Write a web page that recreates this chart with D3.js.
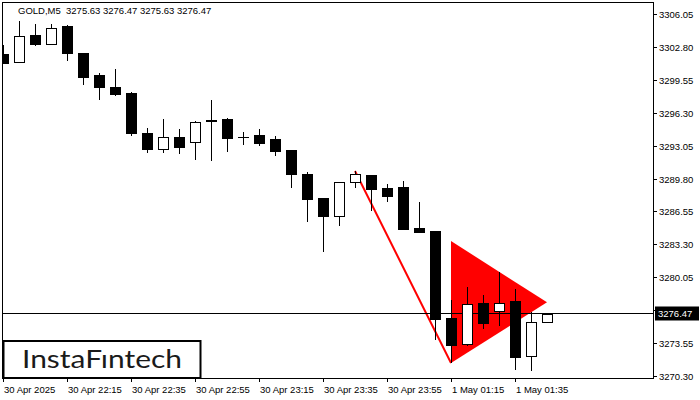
<!DOCTYPE html>
<html><head><meta charset="utf-8">
<script src="https://cdn.jsdelivr.net/npm/d3@7"></script>
<style>html,body{margin:0;padding:0;background:#fff;}svg{display:block;}</style>
</head><body>
<svg id="c" width="700" height="400"></svg>
<script>
// ---- data ----
const title = "GOLD,M5  3275.63 3276.47 3275.63 3276.47";
const opens  = [3302.10,3301.34,3303.98,3303.12,3304.89,3302.20,3300.03,3298.84,3298.25,3294.30,3292.75,3293.87,3293.38,3295.53,3295.68,3293.93,3294.10,3293.71,3292.62,3290.25,3287.88,3286.13,3289.43,3290.15,3288.87,3288.96,3284.92,3284.62,3276.03,3273.43,3277.48,3276.69,3277.68,3272.25,3275.63];
const highs  = [3302.99,3305.36,3305.06,3305.06,3304.96,3302.20,3300.22,3300.62,3298.35,3294.79,3295.68,3294.69,3295.45,3297.56,3295.78,3294.40,3294.69,3294.00,3292.62,3290.45,3287.88,3289.46,3290.54,3290.15,3289.26,3289.56,3287.48,3284.62,3277.78,3279.06,3278.27,3280.57,3278.89,3276.65,3276.47];
const lows   = [3301.15,3301.24,3302.92,3302.96,3301.44,3299.07,3297.59,3297.98,3294.00,3292.35,3292.35,3292.25,3291.66,3291.50,3292.39,3293.14,3293.04,3292.06,3288.90,3285.54,3282.58,3285.14,3288.90,3286.62,3287.51,3284.85,3284.55,3273.83,3271.58,3273.26,3274.97,3275.27,3270.92,3270.82,3275.63];
const closes = [3301.21,3303.88,3303.12,3304.64,3302.23,3299.86,3298.87,3298.18,3294.30,3292.75,3293.90,3292.94,3295.35,3295.57,3293.83,3293.93,3293.34,3292.55,3290.28,3287.81,3286.13,3289.43,3290.22,3288.80,3288.11,3284.85,3284.55,3275.96,3273.41,3277.38,3275.56,3277.48,3272.21,3275.60,3276.47];
const priceTicks = ["3270.30","3273.55","3276.80","3280.05","3283.30","3286.55","3289.80","3293.05","3296.30","3299.55","3302.80","3306.05"];
const timeTickIdx = [0,4,8,12,16,20,24,28,32];
const timeTickLabels = ["30 Apr 2025","30 Apr 22:15","30 Apr 22:35","30 Apr 22:55","30 Apr 23:15","30 Apr 23:35","30 Apr 23:55","1 May 01:15","1 May 01:35"];
const lastPrice = 3276.47;
// pattern: flagpole (from bar 22 high to bar 28 low) and pennant triangle
const poleIdx = [22, 28];
const poleVals = [3290.54, 3271.58];
const triIdx = [28, 28, 34];
const triVals = [3283.63, 3271.58, 3277.58];

// ---- layout ----
const svg = d3.select("#c");
const L = 2, R = 653, T = 2, B = 378;
const x = d3.scaleLinear().domain([0, 34]).range([3.5, 547.5]);
const y = d3.scaleLinear().domain([3270.30, 3306.05]).range([376, 14]);
const font = "'Liberation Sans', Arial, sans-serif";

svg.append("rect").attr("width",700).attr("height",400).attr("fill","#fff");

const clip = svg.append("clipPath").attr("id","pc").append("rect")
  .attr("x",L+1).attr("y",T+1).attr("width",R-L-1).attr("height",B-T-1);
const plot = svg.append("g").attr("clip-path","url(#pc)");

// pennant triangle
const triPts = triIdx.map((k,i)=>[x(k)-0.5, y(triVals[i])]);
plot.append("path").attr("d", d3.line()(triPts)+"Z").attr("fill","#ff0000");
// flagpole
plot.append("line")
  .attr("x1", x(poleIdx[0])-0.5).attr("y1", y(poleVals[0]))
  .attr("x2", x(poleIdx[1])-0.5).attr("y2", y(poleVals[1]))
  .attr("stroke","#ff0000").attr("stroke-width",2);

// last price line
const ly = Math.floor(y(lastPrice)) + 0.5;
plot.append("line").attr("x1",L).attr("x2",R).attr("y1",ly).attr("y2",ly)
  .attr("stroke","#000").attr("stroke-width",1);

// candles
const n = opens.length;
for (let k = 0; k < n; k++) {
  const c = Math.floor(x(k));
  const o = opens[k], h = highs[k], l = lows[k], cl = closes[k];
  const yh = Math.round(y(h)), yl = Math.round(y(l));
  plot.append("rect").attr("x",c).attr("y",yh).attr("width",1).attr("height",Math.max(1,yl-yh)).attr("fill","#000");
  const yTop = Math.round(y(Math.max(o,cl))), yBot = Math.round(y(Math.min(o,cl)));
  if (yBot - yTop < 1) {
    plot.append("rect").attr("x",c-5).attr("y",yTop).attr("width",11).attr("height",1).attr("fill","#000");
  } else if (cl >= o) {
    plot.append("rect").attr("x",c-4.5).attr("y",yTop+0.5).attr("width",10).attr("height",yBot-yTop)
      .attr("fill","#fff").attr("stroke","#000").attr("stroke-width",1);
  } else {
    plot.append("rect").attr("x",c-5).attr("y",yTop).attr("width",11).attr("height",yBot-yTop+1).attr("fill","#000");
  }
}

// frame
svg.append("rect").attr("x",L+0.5).attr("y",T+0.5).attr("width",R-L).attr("height",B-T)
  .attr("fill","none").attr("stroke","#000").attr("stroke-width",1);

// right axis
const ya = svg.append("g");
priceTicks.forEach(t=>{
  const v = +t, yy = Math.round(y(v)) + 0.5;
  ya.append("line").attr("x1",R).attr("x2",R+4).attr("y1",yy).attr("y2",yy).attr("stroke","#000");
  ya.append("text").attr("x",R+6).attr("y",yy+3.5).attr("font-family",font).attr("font-size",9.5)
    .attr("fill","#000").text(t);
});
// last price label
svg.append("rect").attr("x",R+2).attr("y",ly-7).attr("width",44).attr("height",14).attr("fill","#000");
svg.append("text").attr("x",R+5).attr("y",ly+3.5).attr("font-family",font).attr("font-size",9.5)
  .attr("fill","#fff").text(lastPrice.toFixed(2));

// bottom axis
timeTickIdx.forEach((k,i)=>{
  const xx = Math.floor(x(k)) + 0.5;
  svg.append("line").attr("x1",xx).attr("x2",xx).attr("y1",B).attr("y2",B+4).attr("stroke","#000");
  svg.append("text").attr("x",xx+0.5).attr("y",393).attr("font-family",font).attr("font-size",9.5)
    .attr("fill","#000").text(timeTickLabels[i]);
});

// title
svg.append("text").attr("x",18).attr("y",14).attr("font-family",font).attr("font-size",9.5)
  .attr("fill","#000").attr("xml:space","preserve").style("white-space","pre").text(title);

// logo
svg.append("rect").attr("x",3.5).attr("y",341).attr("width",197).attr("height",37)
  .attr("fill","#fff").attr("stroke","#000").attr("stroke-width",2);
svg.append("text").attr("x",22).attr("y",368).attr("font-family","Lato, 'Noto Sans', sans-serif")
  .attr("font-size",25).attr("fill","#1a1a1a").attr("textLength",160).attr("lengthAdjust","spacingAndGlyphs")
  .text("InstaF\u0131ntech");
</script>
</body></html>
